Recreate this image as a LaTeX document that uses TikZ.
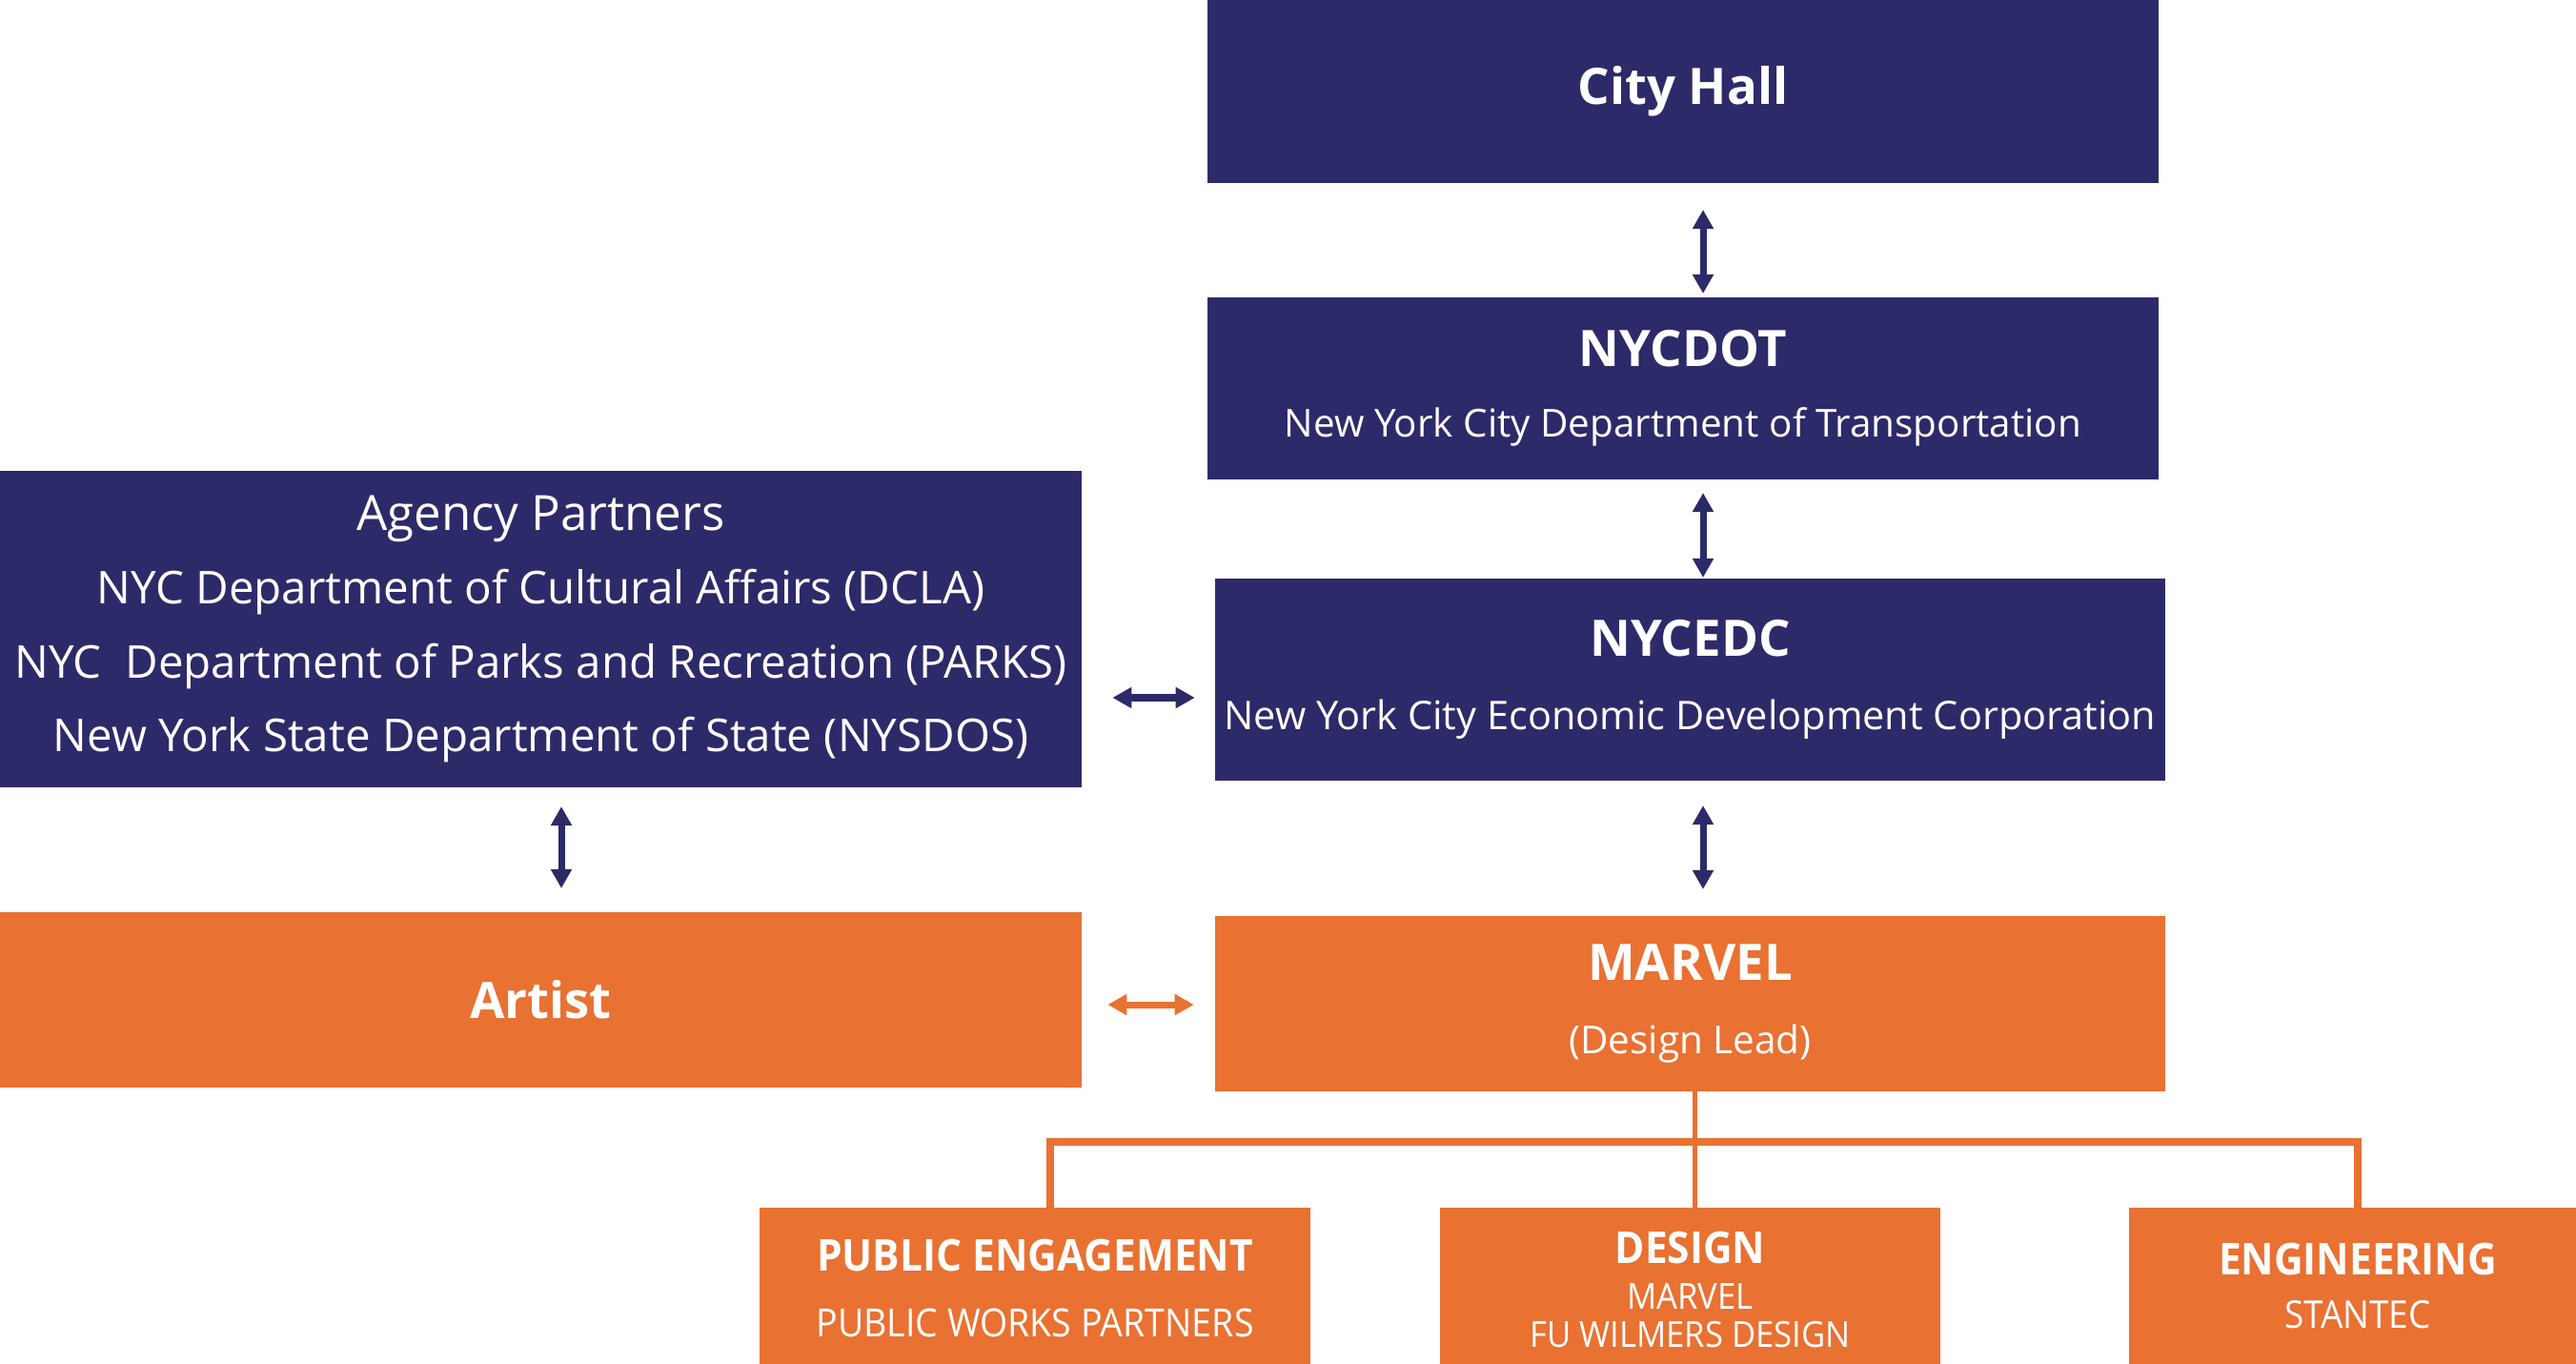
\documentclass[tikz,border=0pt]{standalone}
\usepackage{fontspec}
\setmainfont{Open Sans}
\newfontfamily\narrowfont{Open Sans}[FakeStretch=0.92]
\usetikzlibrary{arrows.meta}
\definecolor{navyblue}{HTML}{2D2A6A}
\definecolor{marvelorange}{HTML}{E97132}
\newcommand{\hd}{\fontsize{15}{18}\selectfont\bfseries}
\newcommand{\nhd}{\narrowfont\fontsize{13.1}{15}\selectfont\bfseries}
\begin{document}
\begin{tikzpicture}[x=0.01cm,y=-0.01cm,line join=round,
		box/.style={fill=navyblue,text=white,align=center,inner sep=0pt,outer sep=0pt},
		obox/.style={box,fill=marvelorange},
		twoway/.style={{Triangle[width=0.21cm,length=0.2cm]}-{Triangle[width=0.21cm,length=0.2cm]},line width=0.07cm,draw=navyblue,fill=navyblue},
		orgline/.style={draw=marvelorange,line width=0.05cm}]
	\def \W{2703};
	\def \H{1431};
	\useasboundingbox (0,0) rectangle (\W,\H);
	% top column
	\node[box,minimum width=9.98cm,minimum height=1.92cm] (cityhall) at (1766,96) {{\hd City Hall}};
	\node[box,minimum width=9.98cm,minimum height=1.91cm,font=\fontsize{11.5}{21}\selectfont] (nycdot) at (1766,407.5)
		{{\hd NYCDOT}\\New York City Department of Transportation};
	\node[box,minimum width=9.97cm,minimum height=2.12cm,font=\fontsize{11.8}{22}\selectfont] (nycedc) at (1773.5,713)
		{{\hd NYCEDC}\\New York City Economic Development Corporation};
	\node[obox,minimum width=9.97cm,minimum height=1.84cm,font=\fontsize{11.5}{22}\selectfont] (marvel) at (1773.5,1053)
		{{\hd MARVEL}\\(Design Lead)};
	% left column
	\node[box,minimum width=11.35cm,minimum height=3.32cm,font=\fontsize{13.5}{22}\selectfont] (agency) at (567.5,660)
		{{\fontsize{14.5}{22}\selectfont Agency Partners}\\NYC Department of Cultural Affairs (DCLA)\\NYC\ \ Department of Parks and Recreation (PARKS)\\New York State Department of State (NYSDOS)};
	\node[obox,minimum width=11.35cm,minimum height=1.84cm] (artist) at (567.5,1049) {{\hd Artist}};
	% teams
	\node[obox,minimum width=5.78cm,minimum height=1.64cm,font=\narrowfont\fontsize{11.6}{19.5}\selectfont] (engage) at (1086,1349)
		{{\nhd\rule{0pt}{11pt}PUBLIC ENGAGEMENT}\\PUBLIC WORKS PARTNERS};
	\node[obox,minimum width=5.25cm,minimum height=1.64cm,font=\narrowfont\fontsize{10.7}{11.5}\selectfont] (design) at (1773.5,1349)
		{{\nhd\rule{0pt}{12pt}DESIGN}\\[2pt]MARVEL\\FU WILMERS DESIGN};
	\node[obox,minimum width=4.80cm,minimum height=1.64cm,font=\narrowfont\fontsize{11.4}{16}\selectfont] (engineer) at (2474,1349)
		{{\nhd ENGINEERING}\\STANTEC};
	% arrows
	\coordinate (spine) at (1787,0);
	\coordinate (agspine) at (589,0);
	\foreach \a/\b/\s/\t/\c in {cityhall/nycdot/0.28/0.04/spine,nycdot/nycedc/0.14/0.01/spine,nycedc/marvel/0.26/0.28/spine,agency/artist/0.2/0.25/agspine}
		{\draw[twoway,shorten <=\s cm,shorten >=\t cm] (\a.south -| \c) -- (\b.north -| \c);}
	\coordinate (navyrow) at (0,732);
	\coordinate (orangerow) at (0,1054);
	\draw[twoway,shorten <=0.32cm,shorten >=0.21cm] (agency.east |- navyrow) -- (nycedc.west |- navyrow);
	\draw[twoway,draw=marvelorange,fill=marvelorange,shorten <=0.27cm,shorten >=0.22cm] (artist.east |- orangerow) -- (marvel.west |- orangerow);
	% org bus
	\coordinate (bus) at (0,1198);
	\coordinate (pedrop) at (1102,0);
	\coordinate (middrop) at (1778.5,0);
	\draw[orgline] (marvel.south -| middrop) -- (design.north -| middrop);
	\draw[orgline,line width=0.08cm,line join=miter] (pedrop |- engage.north) |- (bus -| engineer.north) -- (engineer.north);
\end{tikzpicture}
\end{document}
